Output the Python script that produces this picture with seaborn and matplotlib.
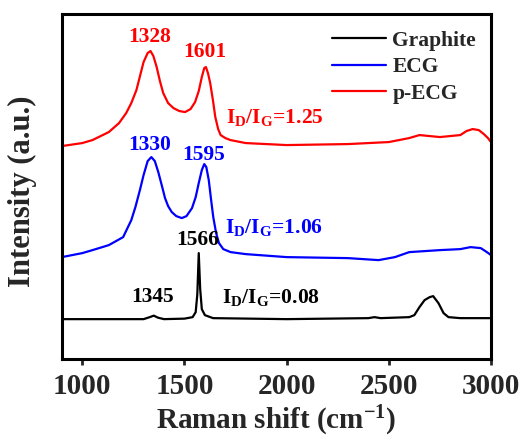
import matplotlib
matplotlib.use("Agg")
import matplotlib.pyplot as plt
import seaborn as sns
import pandas as pd

# ---- data (arbitrary intensity units) ----
red_x = [900, 1000, 1050, 1130, 1180, 1215, 1240, 1265, 1285, 1300, 1320, 1334, 1348, 1364,
         1380, 1396, 1420, 1446, 1475, 1503, 1530, 1552, 1570, 1585, 1597, 1605, 1615, 1626,
         1640, 1651, 1665, 1677, 1700, 1725, 1800, 2000, 2300, 2500, 2600, 2650, 2750, 2850,
         2880, 2910, 2940, 2965, 2985, 3000]
red_y = [213, 216, 219, 227, 236, 246, 256, 269, 285, 297, 306, 308, 303, 292,
         278, 266, 256, 251, 248, 247, 250, 257, 268, 282, 291, 292, 286, 276,
         258, 242, 230, 224, 221, 219, 216, 214, 215, 217, 221, 224, 222, 224,
         228, 230, 229, 225, 221, 217]

blue_x = [900, 1000, 1050, 1130, 1200, 1240, 1260, 1282, 1300, 1320, 1338, 1355, 1372, 1390,
          1405, 1420, 1438, 1460, 1487, 1510, 1537, 1555, 1570, 1585, 1597, 1607, 1619, 1630,
          1641, 1655, 1669, 1690, 1726, 1800, 2000, 2300, 2450, 2530, 2600, 2750, 2850, 2900,
          2950, 2980, 3000]
blue_y = [102, 106, 109, 114, 122, 139, 152, 169, 184, 198, 202, 198, 187, 173,
          161, 153, 147, 143, 141, 143, 151, 162, 176, 189, 195, 192, 179, 160,
          142, 126, 116, 110, 107, 105, 102, 101, 99, 102, 107, 109, 110, 112,
          111, 107, 104]

black_x = [900, 1300, 1330, 1350, 1370, 1400, 1500, 1540, 1555, 1563, 1570, 1577, 1585, 1600,
           1640, 2000, 2400, 2430, 2460, 2600, 2625, 2650, 2675, 2700, 2717, 2743, 2768, 2792,
           2850, 3000]
black_y = [40, 40, 42, 43.5, 41.5, 40, 40.5, 42, 47, 65, 106, 70, 50, 44,
           41, 40, 41, 42, 41, 42, 44, 52, 59, 62, 63, 56, 46, 42,
           41, 41]

series = ["Graphite", "ECG", "p-ECG"]
colors = ["black", "#0000FF", "#FF0000"]
xticks = [1000, 1500, 2000, 2500, 3000]

df = pd.concat([
    pd.DataFrame({"x": black_x, "y": black_y, "s": "Graphite"}),
    pd.DataFrame({"x": blue_x, "y": blue_y, "s": "ECG"}),
    pd.DataFrame({"x": red_x, "y": red_y, "s": "p-ECG"}),
])

sns.set_style("white")
plt.rcParams["font.family"] = ["Liberation Serif", "DejaVu Serif"]
plt.rcParams["font.weight"] = "bold"
plt.rcParams["mathtext.fontset"] = "custom"
plt.rcParams["mathtext.rm"] = "Liberation Serif:bold"
plt.rcParams["mathtext.it"] = "Liberation Serif:bold"
plt.rcParams["mathtext.bf"] = "Liberation Serif:bold"

fig = plt.figure(figsize=(5.24, 4.38), dpi=100)
ax = fig.add_axes([0.118, 0.180, 0.819, 0.788])

sns.lineplot(data=df, x="x", y="y", hue="s", hue_order=series, palette=colors,
             estimator=None, sort=False, linewidth=1.6, ax=ax)

ax.set_xlim(900, 3000)
ax.set_ylim(0, 345)
ax.set_xticks(xticks)
ax.set_yticks([])
for sp in ax.spines.values():
    sp.set_linewidth(2.2)
    sp.set_color("black")
ax.tick_params(axis="x", direction="out", length=4, width=2, labelsize=21, pad=6,
               bottom=True)
for lab in ax.get_xticklabels():
    lab.set_fontweight("bold")
ax.set_xlabel("Raman shift (cm$^{-1}$)", fontsize=21, fontweight="bold", labelpad=3)
ax.set_ylabel("Intensity (a.u.)", fontsize=22, fontweight="bold")
ax.yaxis.set_label_coords(-0.058, 0.487)

leg = ax.legend(frameon=False, loc="upper right", bbox_to_anchor=(1.0, 0.995),
                fontsize=15.5, handlelength=2.5, handletextpad=0.3, labelspacing=0.3,
                borderaxespad=0.3)
for t in leg.get_texts():
    t.set_fontweight("bold")

fs = 15.5
ax.text(1328, 322, "1328", color="#FF0000", fontsize=fs, fontweight="bold", ha="center", va="center")
ax.text(1601, 307, "1601", color="#FF0000", fontsize=fs, fontweight="bold", ha="center", va="center")
ax.text(1705, 242, r"$\mathrm{I_D/I_G}$=1.25", color="#FF0000", fontsize=fs, fontweight="bold", ha="left", va="center")
ax.text(1330, 214, "1330", color="#0000FF", fontsize=fs, fontweight="bold", ha="center", va="center")
ax.text(1595, 204, "1595", color="#0000FF", fontsize=fs, fontweight="bold", ha="center", va="center")
ax.text(1700, 132, r"$\mathrm{I_D/I_G}$=1.06", color="#0000FF", fontsize=fs, fontweight="bold", ha="left", va="center")
ax.text(1566, 119, "1566", color="black", fontsize=fs, fontweight="bold", ha="center", va="center")
ax.text(1345, 62, "1345", color="black", fontsize=fs, fontweight="bold", ha="center", va="center")
ax.text(1685, 62, r"$\mathrm{I_D/I_G}$=0.08", color="black", fontsize=fs, fontweight="bold", ha="left", va="center")

fig.savefig("out.png", dpi=100)
